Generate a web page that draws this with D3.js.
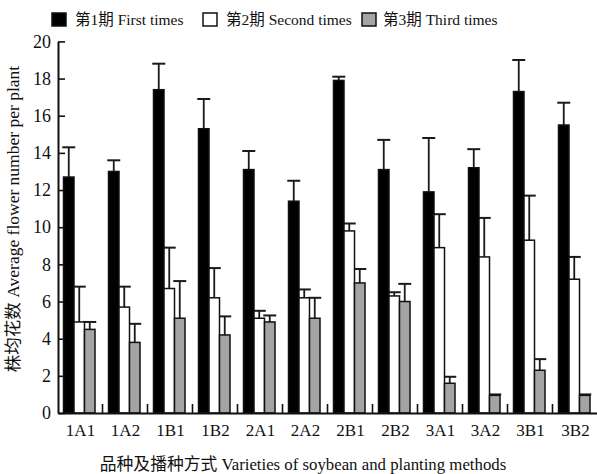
<!DOCTYPE html>
<html>
<head>
<meta charset="utf-8">
<script src="https://cdn.jsdelivr.net/npm/d3@7"></script>
<style>
  body { margin: 0; background: #fff; }
</style>
</head>
<body>
<svg id="chart"></svg>
<script>
var categories = ['1A1', '1A2', '1B1', '1B2', '2A1', '2A2', '2B1', '2B2', '3A1', '3A2', '3B1', '3B2'];
var firstValues = [12.7, 13.0, 17.4, 15.3, 13.1, 11.4, 17.9, 13.1, 11.9, 13.2, 17.3, 15.5];
var firstErrors = [1.6, 0.6, 1.4, 1.6, 1.0, 1.1, 0.2, 1.6, 2.9, 1.0, 1.7, 1.2];
var secondValues = [4.9, 5.7, 6.7, 6.2, 5.1, 6.2, 9.8, 6.3, 8.9, 8.4, 9.3, 7.2];
var secondErrors = [1.9, 1.1, 2.2, 1.6, 0.4, 0.45, 0.4, 0.2, 1.8, 2.1, 2.4, 1.2];
var thirdValues = [4.5, 3.8, 5.1, 4.2, 4.9, 5.1, 7.0, 6.0, 1.6, 0.95, 2.3, 0.95];
var thirdErrors = [0.4, 1.0, 2.0, 1.0, 0.35, 1.1, 0.75, 0.95, 0.35, 0.05, 0.6, 0.05];
var seriesNames = ['第1期 First times', '第2期 Second times', '第3期 Third times'];
var seriesColors = ['#000', '#fff', '#a4a4a4'];
var yTicks = [0, 2, 4, 6, 8, 10, 12, 14, 16, 18, 20];

var width = 597;
var height = 474;
var left = 58;   // y axis position
var bottom = 413; // x axis position
var top_ = 41.4;
var font = '"Liberation Serif", "Noto Sans CJK SC", serif';

var svg = d3.select('#chart').attr('width', width).attr('height', height);

var x = d3.scaleBand().domain(categories).range([left, left + 45 * categories.length]);
var sub = d3.scaleBand().domain([0, 1, 2]).range([5.5, 37]);
var y = d3.scaleLinear().domain([0, 20]).range([bottom, top_]);

var series = [
  { values: firstValues, errors: firstErrors },
  { values: secondValues, errors: secondErrors },
  { values: thirdValues, errors: thirdErrors }
];

var rows = [];
series.forEach(function(s, si){
  categories.forEach(function(c, i){
    rows.push({ cat: c, s: si, v: s.values[i], e: s.errors[i] });
  });
});

// error bars first so bars sit over the stem base
var err = svg.append('g').attr('stroke', '#1a1a1a').attr('stroke-width', 1.8);
err.selectAll('line.stem')
  .data(rows)
  .enter()
  .append('line')
  .attr('x1', function(d){ return x(d.cat) + sub(d.s) + sub.bandwidth() / 2; })
  .attr('x2', function(d){ return x(d.cat) + sub(d.s) + sub.bandwidth() / 2; })
  .attr('y1', function(d){ return y(d.v); })
  .attr('y2', function(d){ return y(d.v + d.e); });
err.selectAll('line.cap')
  .data(rows)
  .enter()
  .append('line')
  .attr('x1', function(d){ return x(d.cat) + sub(d.s) + sub.bandwidth() / 2 - 6.5; })
  .attr('x2', function(d){ return x(d.cat) + sub(d.s) + sub.bandwidth() / 2 + 6.5; })
  .attr('y1', function(d){ return y(d.v + d.e); })
  .attr('y2', function(d){ return y(d.v + d.e); })
  .attr('stroke-width', 2);

svg.append('g').selectAll('rect')
  .data(rows)
  .enter()
  .append('rect')
  .attr('x', function(d){ return x(d.cat) + sub(d.s); })
  .attr('y', function(d){ return y(d.v); })
  .attr('width', sub.bandwidth())
  .attr('height', function(d){ return bottom - y(d.v); })
  .attr('fill', function(d){ return seriesColors[d.s]; })
  .attr('stroke', '#111')
  .attr('stroke-width', 1.5);

// y axis, ticks pointing inward
var yAxis = svg.append('g')
  .attr('transform', 'translate(' + left + ',0)')
  .call(d3.axisLeft(y).tickValues(yTicks).tickSizeInner(-7).tickSizeOuter(0).tickPadding(7));
yAxis.attr('font-family', font);
yAxis.select('.domain').attr('stroke', '#111').attr('stroke-width', 2);
yAxis.selectAll('.tick line').attr('stroke', '#111').attr('stroke-width', 1.6);
yAxis.selectAll('text').style('font-family', font).style('font-size', '18px').attr('fill', '#111');

// x axis with category labels
var xAxis = svg.append('g')
  .attr('transform', 'translate(0,' + bottom + ')')
  .call(d3.axisBottom(x).tickSize(0).tickPadding(11));
xAxis.attr('font-family', font);
xAxis.select('.domain').attr('stroke', '#111').attr('stroke-width', 2);
xAxis.selectAll('text').style('font-family', font).style('font-size', '17px').attr('fill', '#111');

// small boundary ticks between groups
svg.append('g').selectAll('line')
  .data(categories.slice(1))
  .enter()
  .append('line')
  .attr('x1', function(d){ return x(d) - 0.5; })
  .attr('x2', function(d){ return x(d) - 0.5; })
  .attr('y1', bottom)
  .attr('y2', bottom - 9)
  .attr('stroke', '#111')
  .attr('stroke-width', 1.6);

// axis titles
svg.append('text')
  .attr('transform', 'translate(19,219) rotate(-90)')
  .attr('text-anchor', 'middle')
  .style('font-family', font)
  .style('font-size', '17.5px')
  .attr('fill', '#111')
  .text('株均花数 Average flower number per plant');

svg.append('text')
  .attr('x', 303)
  .attr('y', 470)
  .attr('text-anchor', 'middle')
  .style('font-family', font)
  .style('font-size', '16.8px')
  .attr('fill', '#111')
  .text('品种及播种方式 Varieties of soybean and planting methods');

// legend
var legendX = [52, 203, 362];
var legend = svg.append('g').selectAll('g')
  .data(seriesNames)
  .enter()
  .append('g')
  .attr('transform', function(d, i){ return 'translate(' + legendX[i] + ',13)'; });
legend.append('rect')
  .attr('width', 14)
  .attr('height', 13)
  .attr('fill', function(d, i){ return seriesColors[i]; })
  .attr('stroke', '#111')
  .attr('stroke-width', 1.5);
legend.append('text')
  .attr('x', function(d, i){ return i === 2 ? 21 : 23; })
  .attr('y', 12)
  .style('font-family', font)
  .style('font-size', '15.5px')
  .attr('fill', '#111')
  .text(function(d){ return d; });
</script>
</body>
</html>
